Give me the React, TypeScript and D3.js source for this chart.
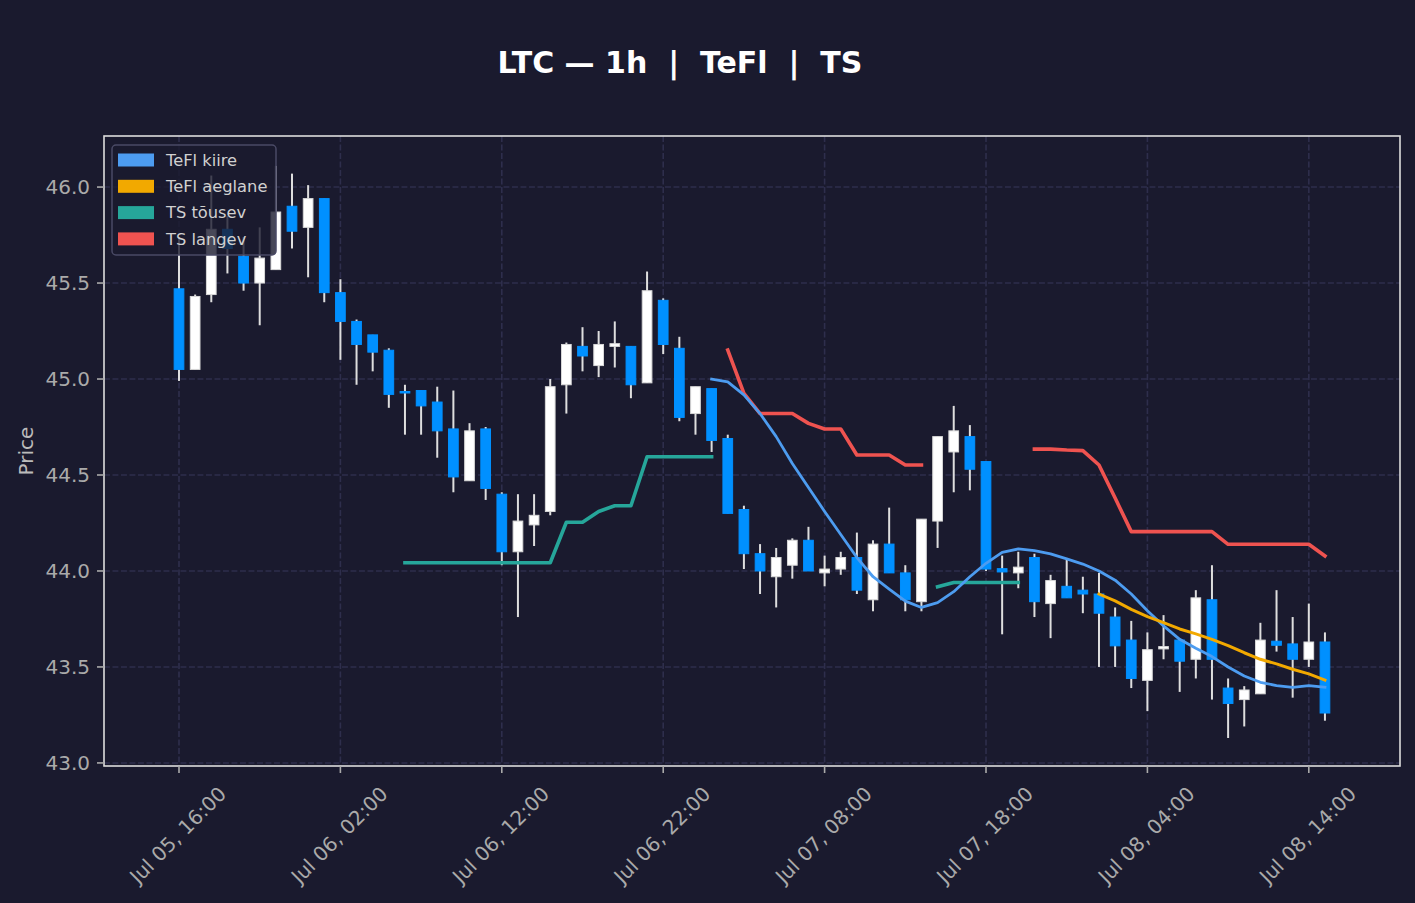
import React from "react";
import * as d3 from "d3";

// hourly LTC candles, Jul 05 16:00 -> Jul 08 15:00 (UTC)
const opens = [
  45.47, 45.05, 45.44, 45.78, 45.64, 45.5, 45.57, 45.9, 45.79, 45.94,
  45.45, 45.3, 45.23, 45.15, 44.935, 44.94, 44.88, 44.74, 44.47, 44.74,
  44.4, 44.1, 44.24, 44.31, 44.97, 45.17, 45.07, 45.17, 45.17, 44.98,
  45.41, 45.16, 44.82, 44.95, 44.69, 44.32, 44.09, 43.97, 44.03, 44.16,
  43.99, 44.01, 44.07, 43.85, 44.14, 43.99, 43.84, 44.26, 44.62, 44.7,
  44.57, 44.012, 43.99, 44.07, 43.83, 43.92, 43.9, 43.88, 43.76, 43.64,
  43.43, 43.594, 43.64, 43.54, 43.85, 43.39, 43.33, 43.36, 43.634, 43.62,
  43.54, 43.63,
];
const highs = [
  45.74, 45.44, 46.06, 45.85, 45.74, 45.79, 46.11, 46.07, 46.01, 45.94,
  45.52, 45.31, 45.23, 45.16, 44.97, 44.94, 44.96, 44.94, 44.77, 44.75,
  44.41, 44.4, 44.4, 45.0, 45.19, 45.27, 45.25, 45.3, 45.17, 45.56,
  45.42, 45.22, 44.96, 44.95, 44.71, 44.34, 44.14, 44.12, 44.17, 44.23,
  44.08, 44.1, 44.2, 44.16, 44.33, 44.03, 44.27, 44.7, 44.86, 44.76,
  44.57, 44.08, 44.1, 44.09, 43.98, 44.06, 43.97, 43.99, 43.81, 43.74,
  43.68, 43.77, 43.64, 43.9, 44.03, 43.44, 43.4, 43.73, 43.9, 43.76,
  43.83, 43.68,
];
const lows = [
  44.99, 45.05, 45.4, 45.55, 45.46, 45.28, 45.57, 45.68, 45.53, 45.4,
  45.1, 44.97, 45.04, 44.85, 44.71, 44.71, 44.59, 44.41, 44.47, 44.37,
  44.03, 43.76, 44.13, 44.29, 44.82, 45.04, 45.01, 45.06, 44.9, 44.98,
  45.13, 44.78, 44.71, 44.62, 44.3, 44.01, 43.88, 43.81, 43.96, 44.0,
  43.92, 43.98, 43.88, 43.79, 43.99, 43.79, 43.79, 44.12, 44.41, 44.42,
  44.0, 43.67, 43.91, 43.76, 43.65, 43.86, 43.78, 43.5, 43.5, 43.39,
  43.27, 43.54, 43.37, 43.44, 43.33, 43.13, 43.19, 43.36, 43.58, 43.34,
  43.5, 43.22,
];
const closes = [
  45.05, 45.43, 45.78, 45.68, 45.5, 45.63, 45.87, 45.77, 45.94, 45.45,
  45.3, 45.18, 45.14, 44.92, 44.928, 44.86, 44.73, 44.49, 44.73, 44.43,
  44.1, 44.26, 44.29, 44.96, 45.18, 45.12, 45.18, 45.184, 44.97, 45.46,
  45.18, 44.8, 44.96, 44.68, 44.3, 44.09, 44.0, 44.07, 44.16, 44.0,
  44.01, 44.07, 43.9, 44.14, 43.99, 43.85, 44.27, 44.7, 44.73, 44.53,
  44.01, 43.995, 44.02, 43.84, 43.95, 43.86, 43.88, 43.78, 43.61, 43.44,
  43.59, 43.606, 43.53, 43.86, 43.54, 43.31, 43.38, 43.64, 43.613, 43.54,
  43.63, 43.26,
];

// TeFl fast line (starts at candle 33)
const kiireStart = 33;
const kiire = [
  45.0, 44.985, 44.917, 44.82, 44.7, 44.56, 44.435, 44.31, 44.19, 44.07,
  43.97, 43.905, 43.843, 43.81, 43.835, 43.892, 43.97, 44.04, 44.097, 44.115,
  44.106, 44.089, 44.063, 44.036, 44.0, 43.952, 43.88, 43.793, 43.714, 43.644,
  43.597, 43.554, 43.5, 43.453, 43.42, 43.403, 43.394, 43.403, 43.394,
];
// TeFl slow line (starts at candle 57)
const aeglaneStart = 57;
const aeglane = [
  43.88, 43.844, 43.8, 43.762, 43.731, 43.698, 43.672, 43.644, 43.611, 43.574,
  43.54, 43.516, 43.488, 43.464, 43.432,
];
// TS up segments
const tousev1Start = 14;
const tousev1 = [
  44.043, 44.043, 44.043, 44.043, 44.043, 44.043, 44.043, 44.043, 44.043, 44.043,
  44.254, 44.254, 44.31, 44.34, 44.34, 44.595, 44.595, 44.595, 44.595, 44.595,
];
const tousev2Start = 47;
const tousev2 = [43.918, 43.94, 43.94, 43.94, 43.94, 43.94];
// TS down segments
const langev1Start = 34;
const langev1 = [
  45.151, 44.925, 44.82, 44.82, 44.82, 44.769, 44.74, 44.74, 44.604, 44.604,
  44.604, 44.552, 44.552,
];
const langev2Start = 53;
const langev2 = [
  44.635, 44.635, 44.63, 44.627, 44.552, 44.38, 44.205, 44.205, 44.205, 44.205,
  44.205, 44.205, 44.139, 44.139, 44.139, 44.139, 44.139, 44.139, 44.078,
];

const yTicks = [43.0, 43.5, 44.0, 44.5, 45.0, 45.5, 46.0];
const legendItems = [
  { label: "TeFl kiire", color: "#4d9cf0" },
  { label: "TeFl aeglane", color: "#f2a900" },
  { label: "TS tõusev", color: "#26a69a" },
  { label: "TS langev", color: "#ef5350" },
];

const HOUR = 3600 * 1000;
const t0 = Date.UTC(2024, 6, 5, 16);
const times = opens.map((_, i) => new Date(t0 + i * HOUR));

const W = 1415;
const H = 903;
const bg = "#1a1a2e";
const m = { left: 104, right: 1400, top: 136, bottom: 766 };

const x = d3
  .scaleUtc()
  .domain([new Date(t0 - 4.647 * HOUR), new Date(t0 + 75.65 * HOUR)])
  .range([m.left, m.right]);
const y = d3.scaleLinear().domain([42.984, 46.266]).range([m.bottom, m.top]);
const fmtX = d3.utcFormat("%b %d, %H:%M");
const fmtY = d3.format(".1f");

const xTicks = d3.range(0, 72, 10).map(i => times[i]);

const seg = (start: number, vals: number[]) =>
  vals.map((v, i) => ({ t: times[start + i], v }));

const line = d3
  .line<{ t: Date; v: number }>()
  .x(d => x(d.t))
  .y(d => y(d.v));

const lines = [
  { data: seg(tousev1Start, tousev1), color: "#26a69a", w: 3.6 },
  { data: seg(tousev2Start, tousev2), color: "#26a69a", w: 3.6 },
  { data: seg(langev1Start, langev1), color: "#ef5350", w: 3.6 },
  { data: seg(langev2Start, langev2), color: "#ef5350", w: 3.6 },
  { data: seg(kiireStart, kiire), color: "#4d9cf0", w: 2.8 },
  { data: seg(aeglaneStart, aeglane), color: "#f2a900", w: 3.0 },
];

const bodyW = 9.7;
const font = "DejaVu Sans, sans-serif";

export default function App() {
  return (
    <svg
      width={W}
      height={H}
      style={{ display: "block", position: "absolute", left: 0, top: 0 }}
      fontFamily={font}
    >
      <rect width={W} height={H} fill={bg} />

      {/* grid */}
      <g stroke="#2e2e4c" strokeWidth={1.6} strokeDasharray="5.9,2.6">
        {yTicks.map(t => (
          <line key={"gy" + t} x1={m.left} x2={m.right} y1={y(t)} y2={y(t)} />
        ))}
        {xTicks.map((t, i) => (
          <line key={"gx" + i} x1={x(t)} x2={x(t)} y1={m.top} y2={m.bottom} />
        ))}
      </g>

      {/* candles */}
      <g>
        {times.map((t, i) => {
          const up = closes[i] >= opens[i];
          const cx = x(t);
          const top = y(Math.max(opens[i], closes[i]));
          const bot = y(Math.min(opens[i], closes[i]));
          return (
            <g key={"c" + i}>
              <line
                x1={cx}
                x2={cx}
                y1={y(highs[i])}
                y2={y(lows[i])}
                stroke="#dedede"
                strokeWidth={2}
              />
              <rect
                x={cx - bodyW / 2}
                y={top}
                width={bodyW}
                height={Math.max(bot - top, 1.5)}
                fill={up ? "#ffffff" : "#0090ff"}
                stroke={up ? "#d8d8d8" : "#0090ff"}
                strokeWidth={1}
              />
            </g>
          );
        })}
      </g>

      {/* indicator lines */}
      <g fill="none" strokeLinejoin="round" strokeLinecap="square">
        {lines.map((l, i) => (
          <path key={"l" + i} d={line(l.data) || ""} stroke={l.color} strokeWidth={l.w} />
        ))}
      </g>

      {/* spines */}
      <rect
        x={m.left}
        y={m.top}
        width={m.right - m.left}
        height={m.bottom - m.top}
        fill="none"
        stroke="#dcdcdc"
        strokeWidth={1.6}
      />

      {/* y axis */}
      <g fontSize={20} fill="#aaaaaa">
        {yTicks.map(t => (
          <g key={"yt" + t}>
            <line x1={m.left - 7} x2={m.left} y1={y(t)} y2={y(t)} stroke="#aaaaaa" strokeWidth={1.6} />
            <text x={m.left - 14} y={y(t)} dy="0.35em" textAnchor="end">
              {fmtY(t)}
            </text>
          </g>
        ))}
      </g>
      <text
        transform={`translate(33, ${(m.top + m.bottom) / 2}) rotate(-90)`}
        textAnchor="middle"
        fontSize={20}
        fill="#bbbbbb"
      >
        Price
      </text>

      {/* x axis */}
      <g fontSize={20} fill="#aaaaaa">
        {xTicks.map((t, i) => (
          <g key={"xt" + i}>
            <line x1={x(t)} x2={x(t)} y1={m.bottom} y2={m.bottom + 7} stroke="#aaaaaa" strokeWidth={1.6} />
            <text
              transform={`translate(${x(t) - 1}, 835) rotate(-45)`}
              textAnchor="middle"
              dy="0.35em"
            >
              {fmtX(t)}
            </text>
          </g>
        ))}
      </g>

      {/* legend */}
      <g>
        <rect
          x={112}
          y={145}
          width={164}
          height={110}
          rx={4}
          fill={bg}
          fillOpacity={0.8}
          stroke="#4a4a66"
          strokeWidth={1.5}
        />
        {legendItems.map((d, i) => (
          <g key={d.label} transform={`translate(118, ${160 + i * 26.3})`}>
            <rect x={0} y={-6.5} width={36} height={13} fill={d.color} />
            <text x={48} y={0} dy="0.35em" fontSize={16.3} fill="#d0d0d0">
              {d.label}
            </text>
          </g>
        ))}
      </g>

      {/* title */}
      <text
        x={680}
        y={73}
        textAnchor="middle"
        fontSize={30}
        fontWeight="bold"
        fill="#ffffff"
        style={{ whiteSpace: "pre" }}
      >
        {"LTC — 1h  |  TeFl  |  TS"}
      </text>
    </svg>
  );
}
